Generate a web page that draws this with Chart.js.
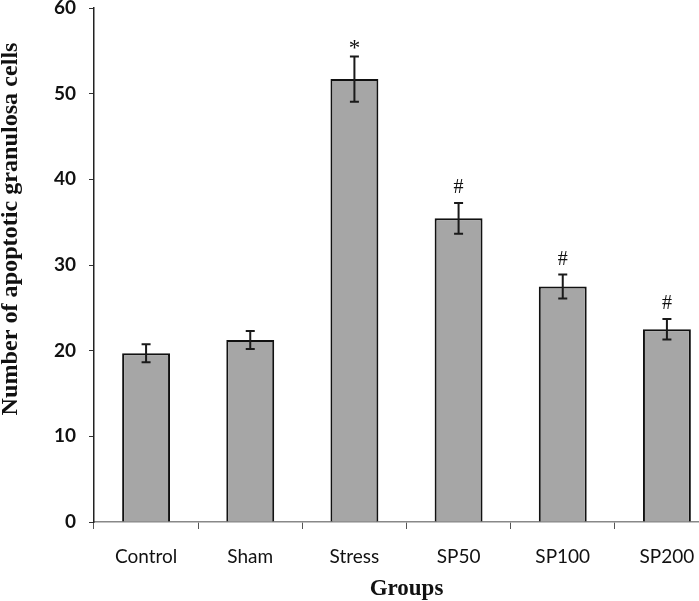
<!DOCTYPE html>
<html>
<head>
<meta charset="utf-8">
<script src="https://cdn.jsdelivr.net/npm/chart.js@4"></script>
<style>
html,body{margin:0;padding:0;background:#fff;overflow:hidden;width:699px;height:601px;}
canvas{display:block;}
</style>
</head>
<body>
<canvas id="c" width="719" height="601"></canvas>
<script>
const categories = ['Control', 'Sham', 'Stress', 'SP50', 'SP100', 'SP200'];
const means = [19.7, 21.25, 51.7, 35.45, 27.5, 22.5];
const errors = [1.05, 1.05, 2.65, 1.8, 1.4, 1.2];
const marks = ['', '', '*', '#', '#', '#'];
const yMin = 0, yMax = 60, yStep = 10;
const xTitle = 'Groups';
const yTitle = 'Number of apoptotic granulosa cells';

const errorBarPlugin = {
  id: 'errorBars',
  afterDatasetsDraw(chart) {
    const ctx = chart.ctx;
    const meta = chart.getDatasetMeta(0);
    const ys = chart.scales.y;
    ctx.save();
    meta.data.forEach((bar, i) => {
      const x = bar.x;
      const top = ys.getPixelForValue(means[i] + errors[i]);
      const bot = ys.getPixelForValue(means[i] - errors[i]);
      ctx.strokeStyle = '#1a1a1a';
      ctx.lineWidth = 2;
      ctx.beginPath();
      ctx.moveTo(x, top); ctx.lineTo(x, bot);
      ctx.moveTo(x - 4.5, top); ctx.lineTo(x + 4.5, top);
      ctx.moveTo(x - 4.5, bot); ctx.lineTo(x + 4.5, bot);
      ctx.stroke();
      if (marks[i]) {
        ctx.fillStyle = '#111';
        ctx.font = (marks[i] === '*' ? '23px' : '20px') + ' "Liberation Serif"';
        ctx.textAlign = 'center';
        ctx.textBaseline = 'middle';
        ctx.fillText(marks[i], x, top - (marks[i] === '*' ? 7 : 15));
      }
    });
    ctx.restore();
  }
};

const titlesPlugin = {
  id: 'axisTitles',
  afterDraw(chart) {
    const ctx = chart.ctx;
    const area = chart.chartArea;
    ctx.save();
    ctx.fillStyle = '#111';
    ctx.textAlign = 'center';
    ctx.textBaseline = 'middle';
    ctx.font = 'bold 23px "Liberation Serif"';
    ctx.fillText(xTitle, (area.left + area.right) / 2, 589);
    ctx.translate(11, 229);
    ctx.rotate(-Math.PI / 2);
    ctx.scale(1.05, 1);
    ctx.fillText(yTitle, 0, 0);
    ctx.restore();
  }
};

new Chart(document.getElementById('c'), {
  type: 'bar',
  data: {
    labels: categories,
    datasets: [{
      data: means,
      backgroundColor: '#a6a6a6',
      borderColor: '#111',
      borderWidth: 2,
      barPercentage: 0.46,
      categoryPercentage: 1.0
    }]
  },
  options: {
    responsive: false,
    animation: false,
    layout: { padding: { top: 8, right: 0, left: 0, bottom: 0 } },
    plugins: { legend: { display: false }, tooltip: { enabled: false } },
    scales: {
      x: {
        offset: true,
        grid: { display: true, drawOnChartArea: false, drawTicks: true, tickLength: 7, offset: true, color: '#555', lineWidth: 1 },
        border: { display: true, color: '#888', width: 1.5 },
        ticks: { color: '#111', font: { family: 'Lato', size: 19 }, padding: 16 },
        afterFit(s) { s.height = 79; }
      },
      y: {
        min: yMin, max: yMax,
        ticks: { stepSize: yStep, color: '#111', font: { family: 'Lato', size: 19, weight: 'bold' }, padding: 13 },
        grid: { display: true, drawOnChartArea: false, drawTicks: true, tickLength: 5, color: '#333' },
        border: { display: true, color: '#222', width: 1.5 },
        afterFit(s) { s.width = 94; s.paddingTop = 0; s.paddingBottom = 0; }
      }
    }
  },
  plugins: [errorBarPlugin, titlesPlugin]
});
</script>
</body>
</html>
